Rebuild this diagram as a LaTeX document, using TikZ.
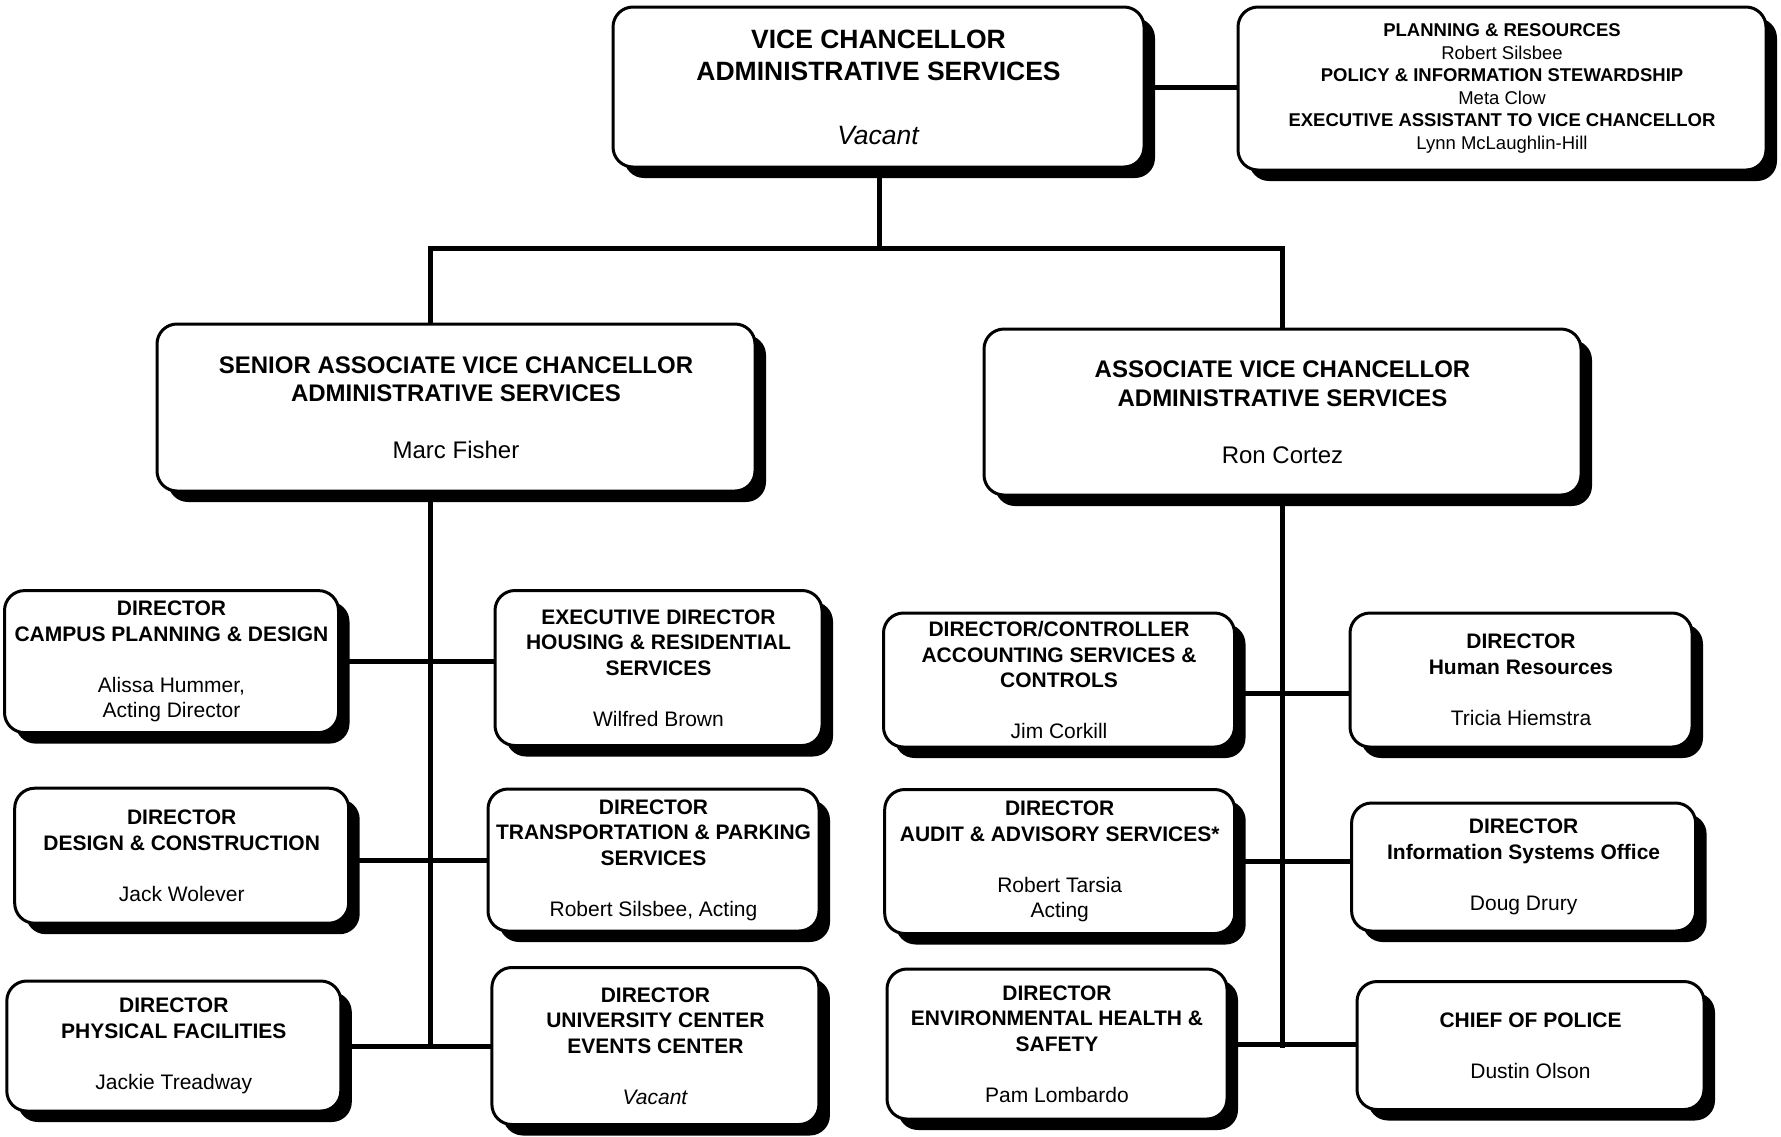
\documentclass[tikz,border=0pt]{standalone}
\usepackage{fontspec}
\setmainfont{Liberation Sans}
\usetikzlibrary{shadows}
\tikzset{
  orgbox/.style={draw=black, line width=3pt, rounded corners=20pt, fill=white,
    drop shadow={shadow xshift=11pt, shadow yshift=-11pt, opacity=1, fill=black},
    inner sep=0pt, align=center},
  dirbox/.style={orgbox, font=\fontsize{21}{25.5}\selectfont},
  link/.style={line width=5pt, line cap=rect}
}
\newcommand{\gapline}{\\[25.5pt]}
\begin{document}
\begin{tikzpicture}[x=1pt,y=-1pt]
\useasboundingbox (0,0) rectangle (1781,1136);

% top level
\node[orgbox, minimum width=531pt, minimum height=160pt,
  font=\fontsize{26.5}{32}\selectfont] (vc) at (878.5,87)
  {\textbf{VICE CHANCELLOR}\\\textbf{ADMINISTRATIVE SERVICES}\\[32pt]\textit{Vacant}};
\node[orgbox, minimum width=528pt, minimum height=163pt,
  font=\fontsize{18.5}{22.5}\selectfont] (plan) at (1502,88.5)
  {\textbf{PLANNING \& RESOURCES}\\Robert Silsbee\\\textbf{POLICY \& INFORMATION STEWARDSHIP}\\Meta Clow\\\textbf{EXECUTIVE ASSISTANT TO VICE CHANCELLOR}\\Lynn McLaughlin-Hill};

% second level
\node[orgbox, minimum width=598pt, minimum height=167pt,
  font=\fontsize{24}{28.5}\selectfont] (savc) at (456,407.5)
  {\textbf{SENIOR ASSOCIATE VICE CHANCELLOR}\\\textbf{ADMINISTRATIVE SERVICES}\\[28.5pt]Marc Fisher};
\node[orgbox, minimum width=597pt, minimum height=166pt,
  font=\fontsize{24}{28.5}\selectfont] (avc) at (1282.5,412)
  {\textbf{ASSOCIATE VICE CHANCELLOR}\\\textbf{ADMINISTRATIVE SERVICES}\\[28.5pt]Ron Cortez};

% left group
\node[dirbox, minimum width=334pt, minimum height=142pt] (cpd) at (171.5,661.6)
  {\textbf{DIRECTOR}\\\textbf{CAMPUS PLANNING \& DESIGN}\gapline Alissa Hummer,\\Acting Director};
\node[dirbox, minimum width=327pt, minimum height=155pt] (hrs) at (658.5,668)
  {\textbf{EXECUTIVE DIRECTOR}\\\textbf{HOUSING \& RESIDENTIAL}\\\textbf{SERVICES}\gapline Wilfred Brown};
\node[dirbox, minimum width=334pt, minimum height=135pt] (dc) at (181.7,855.7)
  {\textbf{DIRECTOR}\\\textbf{DESIGN \& CONSTRUCTION}\gapline Jack Wolever};
\node[dirbox, minimum width=331pt, minimum height=142pt] (tps) at (653.5,860)
  {\textbf{DIRECTOR}\\\textbf{TRANSPORTATION \& PARKING}\\\textbf{SERVICES}\gapline Robert Silsbee, Acting};
\node[dirbox, minimum width=334pt, minimum height=130pt] (pf) at (173.8,1046)
  {\textbf{DIRECTOR}\\\textbf{PHYSICAL FACILITIES}\gapline Jackie Treadway};
\node[dirbox, minimum width=327pt, minimum height=157pt] (uc) at (655.4,1046)
  {\textbf{DIRECTOR}\\\textbf{UNIVERSITY CENTER}\\\textbf{EVENTS CENTER}\gapline\textit{Vacant}};

% right group
\node[dirbox, minimum width=351pt, minimum height=134pt] (acs) at (1059,680)
  {\textbf{DIRECTOR/CONTROLLER}\\\textbf{ACCOUNTING SERVICES \&}\\\textbf{CONTROLS}\gapline Jim Corkill};
\node[dirbox, minimum width=342pt, minimum height=134pt] (hr) at (1521,680)
  {\textbf{DIRECTOR}\\\textbf{Human Resources}\gapline Tricia Hiemstra};
\node[dirbox, minimum width=350pt, minimum height=144pt] (aas) at (1059.7,861.5)
  {\textbf{DIRECTOR}\\\textbf{AUDIT \& ADVISORY SERVICES*}\gapline Robert Tarsia\\Acting};
\node[dirbox, minimum width=344pt, minimum height=128pt] (iso) at (1523.6,867)
  {\textbf{DIRECTOR}\\\textbf{Information Systems Office}\gapline Doug Drury};
\node[dirbox, minimum width=340pt, minimum height=150pt] (ehs) at (1057,1044)
  {\textbf{DIRECTOR}\\\textbf{ENVIRONMENTAL HEALTH \&}\\\textbf{SAFETY}\gapline Pam Lombardo};
\node[dirbox, minimum width=347pt, minimum height=128pt] (police) at (1530.5,1045.5)
  {\textbf{CHIEF OF POLICE}\gapline Dustin Olson};

% connectors
\coordinate (busC) at (879,248);
\coordinate (busL) at (430,248);
\coordinate (busR) at (1282.5,248);
\coordinate (spL) at (430,1046);

\draw[link] (vc.east) -- (vc.east -| plan.west);
\draw[link] (vc.south -| busC) -- (busC);
\draw[link] (busL) -- (busR);
\draw[link] (busL) -- (busL |- savc.north);
\draw[link] (busR) -- (avc.north);

\draw[link] (savc.south -| busL) -- (spL);
\draw[link] (cpd.east) -- (cpd.east -| hrs.west);
\draw[link] (tps.west) -- (tps.west -| dc.east);
\draw[link] (pf.east) -- (uc.west);

\draw[link] (avc.south) -- (avc.south |- police.west);
\draw[link] ([yshift=-13pt]acs.east) -- ([yshift=-13pt]hr.west);
\draw[link] (aas.east) -- (aas.east -| iso.west);
\draw[link] (ehs.east) -- (ehs.east -| police.west);
\end{tikzpicture}
\end{document}
